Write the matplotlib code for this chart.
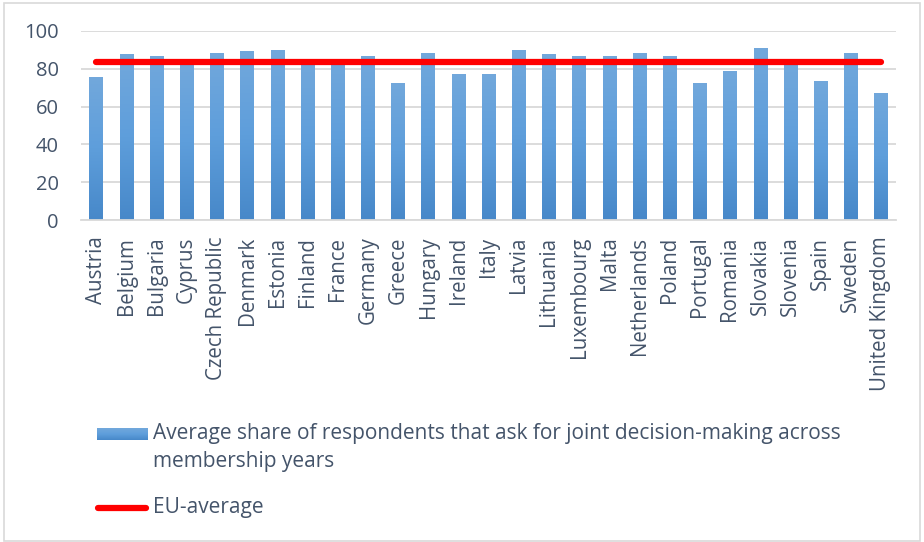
import numpy as np
import matplotlib
matplotlib.use("Agg")
import matplotlib.pyplot as plt
from matplotlib.patches import Rectangle
from matplotlib.lines import Line2D
from matplotlib.colors import LinearSegmentedColormap

plt.rcParams['font.family'] = ['Open Sans', 'DejaVu Sans']

# Data
countries = ["Austria", "Belgium", "Bulgaria", "Cyprus", "Czech Republic", "Denmark",
             "Estonia", "Finland", "France", "Germany", "Greece", "Hungary", "Ireland",
             "Italy", "Latvia", "Lithuania", "Luxembourg", "Malta", "Netherlands",
             "Poland", "Portugal", "Romania", "Slovakia", "Slovenia", "Spain",
             "Sweden", "United Kingdom"]
shares = [75.4, 87.6, 87.0, 82.5, 88.6, 89.2, 89.7, 82.5, 85.4, 87.0, 72.7, 88.6, 77.5,
          77.0, 89.7, 87.6, 87.0, 87.0, 88.6, 87.0, 72.7, 78.6, 90.8, 82.5, 73.8,
          88.6, 67.4]
eu_average = 83.5
legend_lines = ["Average share of respondents that ask for joint decision-making across",
                "membership years"]
eu_label = "EU-average"

text_col = "#44546A"
grid_col = "#D9D9D9"

fig = plt.figure(figsize=(9.24, 5.42), dpi=100)
ax = fig.add_axes([81 / 924, 1 - 220 / 542, 815 / 924, 189 / 542])

x = np.arange(len(countries))
bars = ax.bar(x, shares, width=0.44, color="#5B9BD5", zorder=2)

# vertical gradient inside each bar
cmap = LinearSegmentedColormap.from_list("bar", ["#4788C9", "#5E9EDB", "#72A8DC"])
grad = np.linspace(0, 1, 256).reshape(-1, 1)
for b in bars:
    b.set_facecolor("none")
    im = ax.imshow(grad, cmap=cmap, origin="lower", aspect="auto", zorder=2,
                   extent=[b.get_x(), b.get_x() + b.get_width(), 0, b.get_height()])
    im.set_clip_path(b)

ax.plot(x, [eu_average] * len(x), color="#FF0000", lw=4.5, solid_capstyle="round", zorder=3)

ax.set_xlim(-0.5, len(countries) - 0.5)
ax.set_ylim(0, 100)
ax.set_yticks(range(0, 101, 20))
ax.yaxis.grid(True, color=grid_col, lw=1.3, zorder=0)
ax.set_axisbelow(True)
for s in ["top", "right", "left"]:
    ax.spines[s].set_visible(False)
ax.spines["bottom"].set_color(grid_col)
ax.spines["bottom"].set_linewidth(1.3)
ax.set_xticks(x)
ax.set_xticklabels(countries, rotation=90, va="top", ha="center")
ax.tick_params(axis="x", length=0, pad=12, labelsize=14.8, labelcolor=text_col)
ax.tick_params(axis="y", length=0, pad=16, labelsize=14.5, labelcolor=text_col)

# legend, drawn by hand in figure pixels
W, H = 924, 542
grad_leg = fig.add_axes([97 / W, 1 - 440 / H, 51 / W, 12 / H])
grad_leg.imshow(grad, cmap=cmap, origin="lower", aspect="auto")
grad_leg.axis("off")
fig.text(153 / W, 1 - 434 / H, legend_lines[0], fontsize=15, color=text_col, va="center")
fig.text(153 / W, 1 - 462 / H, legend_lines[1], fontsize=15, color=text_col, va="center")
fig.add_artist(Line2D([98 / W, 146 / W], [1 - 508 / H, 1 - 508 / H], color="#FF0000",
                      lw=4.5, solid_capstyle="round", transform=fig.transFigure))
fig.text(153 / W, 1 - 507 / H, eu_label, fontsize=15, color=text_col, va="center")

# chart border
fig.patches.append(Rectangle((4 / W, 1 / H), 916 / W, 538 / H, transform=fig.transFigure,
                             fill=False, edgecolor=grid_col, lw=1.2))

fig.savefig("out.png", dpi=100)
